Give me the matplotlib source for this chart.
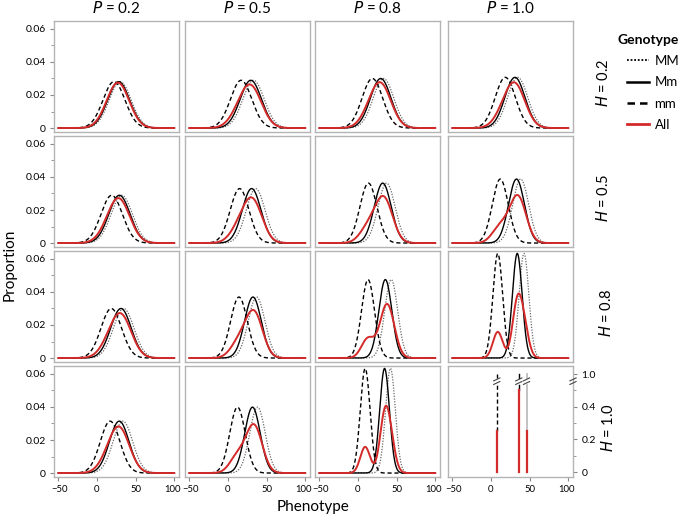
import numpy as np
import matplotlib
matplotlib.use("Agg")
import matplotlib.pyplot as plt
import matplotlib.transforms as mtransforms
from matplotlib.lines import Line2D

plt.rcParams['font.family'] = ['Lato', 'DejaVu Sans']

# panel grid: rows = H, columns = P
H_vals = [0.2, 0.5, 0.8, 1.0]
P_vals = [0.2, 0.5, 0.8, 1.0]
genotypes = ['MM', 'Mm', 'mm']
geno_freq = [0.25, 0.5, 0.25]   # MM, Mm, mm

# genotype means (row = H, col = P)
mean_MM = [[30.0, 33.0, 33.0, 34.5],
           [32.0, 35.8, 37.0, 38.4],
           [34.5, 37.0, 43.0, 42.7],
           [33.5, 38.2, 42.0, 46.0]]
mean_Mm = [[28.0, 29.5, 29.4, 31.0],
           [29.0, 30.6, 32.0, 33.0],
           [31.0, 32.3, 35.4, 34.0],
           [28.8, 31.7, 34.4, 36.0]]
mean_mm = [[22.0, 17.0, 18.6, 18.5],
           [19.0, 15.0, 13.5, 12.0],
           [18.5, 14.2, 13.0, 8.8],
           [17.0, 12.3, 9.3, 7.5]]
# within-genotype sd (0 = no environmental spread, drawn as spikes)
sd_within = [[14.2, 13.8, 13.3, 13.0],
             [13.8, 12.1, 11.0, 10.3],
             [13.3, 10.8, 8.4, 6.3],
             [12.7, 10.0, 6.3, 0.0]]

x_ticks = [-50, 0, 50, 100]
y_ticks = [0, 0.02, 0.04, 0.06]
y_ticklabels = ['0', '0.02', '0.04', '0.06']
spike_ticks = [0, 0.2, 0.4, 0.6]
spike_ticklabels = ['0', '0.2', '0.4', '1.0']

W, Hpx = 685, 518
fig = plt.figure(figsize=(W / 100, Hpx / 100), dpi=100)

col_left = [54, 185, 315, 448]
row_top = [21, 136, 251, 366]
pw, ph = 125, 111

frame_col = '#b4b4b4'
red = '#d42a2a'
styles = {'MM': dict(color='#6a6a6a', ls=(0, (1, 1.2)), lw=0.9),
          'Mm': dict(color='black', ls='-', lw=1.0),
          'mm': dict(color='black', ls=(0, (3, 2)), lw=1.0)}

x = np.linspace(-50, 100, 601)


def npdf(x, m, s):
    return np.exp(-0.5 * ((x - m) / s) ** 2) / (s * np.sqrt(2 * np.pi))


def brk(ax, xc, yc, dx=4.0, dy=0.018, gap=0.022):
    # little "//" break mark
    for off in (0, gap):
        ax.plot([xc - dx, xc + dx], [yc - dy / 2 + off, yc + dy / 2 + off],
                color='#444444', lw=0.8, clip_on=False, zorder=6)


for r in range(4):
    for c in range(4):
        ax = fig.add_axes([col_left[c] / W, 1 - (row_top[r] + ph) / Hpx, pw / W, ph / Hpx])
        for sp in ax.spines.values():
            sp.set_color(frame_col)
            sp.set_linewidth(1.0)
        ax.set_xlim(-55.6, 106.1)
        means = [mean_MM[r][c], mean_Mm[r][c], mean_mm[r][c]]
        s = sd_within[r][c]
        if s > 0:
            ax.set_ylim(-0.0024, 0.0648)
            total = np.zeros_like(x)
            for g, m, f in zip(genotypes, means, geno_freq):
                y = npdf(x, m, s)
                total += f * y
                ax.plot(x, y, **styles[g], zorder=3)
            ax.plot(x, total, color=red, lw=1.4, zorder=4)
        else:
            # fully determined genotypes: spikes on a broken axis (1.0 drawn at 0.6)
            ax.set_ylim(-0.0306, 0.649)
            for g, m, f in zip(genotypes, means, geno_freq):
                st = dict(styles[g])
                if g == 'MM':
                    st['color'] = '#bdbdbd'
                    st['ls'] = '-'
                    st['lw'] = 1.3
                ax.plot([m, m], [f, 0.535], **st, zorder=3)
                ax.plot([m, m], [0.575, 0.6], **st, zorder=3)
                brk(ax, m, 0.545)
                ax.plot([m, m], [0, f], color=red, lw=1.6, zorder=4)
            ax.yaxis.tick_right()
            ax.set_yticks(spike_ticks)
            ax.set_yticklabels(spike_ticklabels)
            ax.set_yticks([0.1, 0.3, 0.5], minor=True)
            ax.tick_params(axis='y', which='both', direction='out', length=3,
                           color='#888888', labelsize=7.5, pad=3)
            ax.tick_params(axis='y', which='minor', length=2)
            brk(ax, 106.1, 0.545)
        if c == 0:
            ax.set_yticks(y_ticks)
            ax.set_yticklabels(y_ticklabels)
            ax.set_yticks([0.01, 0.03, 0.05], minor=True)
            ax.tick_params(axis='y', which='both', direction='out', length=3,
                           color='#888888', labelsize=7.5, pad=3)
            ax.tick_params(axis='y', which='minor', length=2)
        elif s > 0:
            ax.set_yticks([])
        if r == 3:
            ax.set_xticks(x_ticks)
            ax.tick_params(axis='x', direction='out', length=3, color='#888888',
                           labelsize=6.8, pad=3)
            labs = ax.get_xticklabels()
            labs[0].set_transform(labs[0].get_transform() +
                                  mtransforms.ScaledTranslation(1.5 / 100, 0, fig.dpi_scale_trans))
            labs[-1].set_transform(labs[-1].get_transform() +
                                   mtransforms.ScaledTranslation(-1.5 / 100, 0, fig.dpi_scale_trans))
        else:
            ax.set_xticks([])
        if r == 0:
            ax.set_title(f'$P$ = {P_vals[c]}', fontsize=11, pad=6)

# row labels
row_lab_x = [603, 603, 606, 608]
for r in range(4):
    yc = row_top[r] + ph / 2 + 6
    fig.text(row_lab_x[r] / W, 1 - yc / Hpx, f'$H$ = {H_vals[r]}', rotation=90,
             ha='center', va='center', fontsize=10.5)

fig.text(10 / W, 1 - 265 / Hpx, 'Proportion', rotation=90, ha='center', va='center', fontsize=11)
fig.text(313 / W, 1 - 507 / Hpx, 'Phenotype', ha='center', va='center', fontsize=11)

# legend
handles = [Line2D([], [], color='black', ls=(0, (1, 1)), lw=1.3),
           Line2D([], [], color='black', ls='-', lw=1.8),
           Line2D([], [], color='black', ls=(0, (3, 2)), lw=1.8),
           Line2D([], [], color=red, lw=2.0)]
leg = fig.legend(handles, ['MM', 'Mm', 'mm', 'All'], loc='upper left',
                 bbox_to_anchor=(606 / W, 1 - 22 / Hpx), frameon=False,
                 fontsize=9.5, handlelength=1.7, handletextpad=0.4,
                 labelspacing=0.7, title='Genotype',
                 title_fontproperties={'weight': 'bold', 'size': 10})
leg._legend_box.align = 'right'

fig.savefig('out.png', dpi=100)
